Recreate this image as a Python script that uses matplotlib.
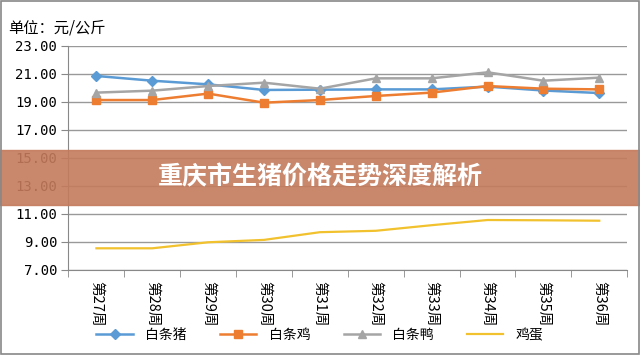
import matplotlib
matplotlib.use("Agg")
import matplotlib.pyplot as plt
from matplotlib.patches import Rectangle

plt.rcParams['font.family'] = ['Noto Sans CJK SC', 'DejaVu Sans']

weeks = ["第27周", "第28周", "第29周", "第30周", "第31周",
         "第32周", "第33周", "第34周", "第35周", "第36周"]
pig = [20.86, 20.52, 20.26, 19.86, 19.88, 19.90, 19.90, 20.10, 19.82, 19.64]
chicken = [19.14, 19.14, 19.60, 18.95, 19.14, 19.43, 19.67, 20.14, 19.95, 19.90]
duck = [19.67, 19.81, 20.14, 20.38, 19.95, 20.69, 20.69, 21.12, 20.52, 20.74]
egg = [8.55, 8.55, 8.98, 9.15, 9.70, 9.80, 10.20, 10.57, 10.55, 10.52]
series_names = ["白条猪", "白条鸡", "白条鸭", "鸡蛋"]
yticks = [7, 9, 11, 13, 15, 17, 19, 21, 23]

fig = plt.figure(figsize=(6.4, 3.56), dpi=100)
ax = fig.add_axes([0.107, 0.2416, 0.873, 0.6292])

x = list(range(len(weeks)))
ax.plot(x, pig, color="#5B9BD5", lw=1.8, marker="D", ms=5, label=series_names[0])
ax.plot(x, chicken, color="#ED7D31", lw=1.8, marker="s", ms=6, label=series_names[1])
ax.plot(x, duck, color="#A5A5A5", lw=1.8, marker="^", ms=6, label=series_names[2])
ax.plot(x, egg, color="#F2C12E", lw=1.6, label=series_names[3])

ax.set_xlim(-0.5, len(weeks) - 0.5)
ax.set_ylim(7, 23)
ax.set_yticks(yticks)
ax.set_yticklabels([f"{v:.2f}" for v in yticks], fontsize=10, family=['DejaVu Sans Mono'])
ax.set_xticks(x)
ax.set_xticklabels(weeks, rotation=-90, fontsize=10.5, va="top")
ax.set_xticks([i - 0.5 for i in range(len(weeks) + 1)], minor=True)
ax.tick_params(axis="x", which="major", length=0, pad=8)
ax.tick_params(axis="x", which="minor", length=5, color="#888888")
ax.tick_params(axis="y", length=5, color="#888888", pad=3)

ax.grid(axis="y", color="#999999", lw=1)
ax.set_axisbelow(True)
for side in ["top", "right"]:
    ax.spines[side].set_visible(False)
ax.spines["left"].set_color("#888888")
ax.spines["bottom"].set_color("#888888")

fig.text(0.012, 0.92, "单位：元/公斤", fontsize=11, va="center", ha="left")

ax.legend(loc="center", bbox_to_anchor=(0.5, 0.058), bbox_transform=fig.transFigure,
          ncol=4, frameon=False, fontsize=10, handlelength=2.6, columnspacing=2.4,
          handletextpad=0.9)

# banner overlay
fig.patches.append(Rectangle((0, 0.424), 1, 0.154, transform=fig.transFigure,
                             color="#C47A5C", alpha=0.9, zorder=5))
fig.text(0.5, 0.501, "重庆市生猪价格走势深度解析", color="white", fontsize=18,
         fontweight="bold", ha="center", va="center", zorder=6)

# outer frame
fig.patches.append(Rectangle((0.002, 0.006), 0.996, 0.99, transform=fig.transFigure,
                             fill=False, edgecolor="#888888", lw=1.2, zorder=7))

fig.savefig("out.png", dpi=100)
